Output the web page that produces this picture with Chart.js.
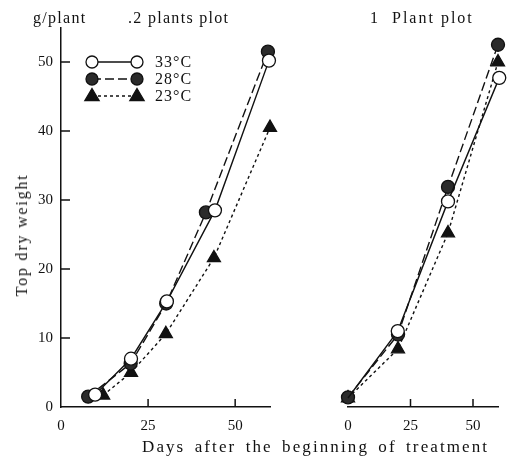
<!DOCTYPE html>
<html>
<head>
<meta charset="utf-8">
<script src="https://cdn.jsdelivr.net/npm/chart.js@4/dist/chart.umd.min.js"></script>
<style>
  body { margin: 0; background: #fff; }
  #wrap { position: relative; width: 507px; height: 457px; overflow: hidden; font-family: "Liberation Serif", serif; color: #111; }
  canvas { position: absolute; top: 0; }
  .lbl { position: absolute; font-size: 16px; line-height: 20px; white-space: pre; letter-spacing: 1.3px; }
</style>
</head>
<body>
<div id="wrap">
  <canvas id="left" width="290" height="457" style="left:0"></canvas>
  <canvas id="right" width="257" height="457" style="left:250px"></canvas>
  <div class="lbl" style="left:33px;top:8px">g/plant</div>
  <div class="lbl" style="left:128px;top:8px">.2 plants plot</div>
  <div class="lbl" style="left:370px;top:8px;letter-spacing:2px">1  Plant plot</div>
  <div class="lbl" style="left:142px;top:437px;font-size:17px;letter-spacing:2.1px;word-spacing:3px">Days after the beginning of treatment</div>
  <div class="lbl" style="left:22px;top:235px;letter-spacing:1.8px;transform:translate(-50%,-50%) rotate(-90deg)">Top dry weight</div>
</div>
<script>
// ====== Data (days, top dry weight g/plant)
const seriesNames = ["33°C", "28°C", "23°C"];

// 2 plants plot
const leftDays33 = [9.8, 20.1, 30.4, 44.2, 59.7];
const left33 = [1.8, 7.0, 15.3, 28.5, 50.2];
const leftDays28 = [7.8, 20.0, 30.2, 41.6, 59.4];
const left28 = [1.5, 6.3, 15.0, 28.2, 51.5];
const leftDays23 = [12.1, 20.1, 30.1, 43.9, 60.0];
const left23 = [1.7, 5.0, 10.6, 21.6, 40.5];

// 1 plant plot
const rightDays33 = [0, 19.9, 40, 60.5];
const right33 = [1.3, 11.0, 29.8, 47.7];
const rightDays28 = [0, 20, 40, 60];
const right28 = [1.4, 10.5, 31.9, 52.5];
const rightDays23 = [0, 20, 40, 60];
const right23 = [1.3, 8.4, 25.2, 50.0];

const xTicks = [0, 25, 50];
const yTicks = [0, 10, 20, 30, 40, 50];

const INK = "#111";
const FONT = "Liberation Serif";

const zip = (xs, ys) => xs.map((x, i) => ({ x, y: ys[i] }));

const styles = [
  { pointStyle: "circle", pointRadius: 6.5, pointBackgroundColor: "#fff", borderDash: [] },
  { pointStyle: "circle", pointRadius: 6.5, pointBackgroundColor: "#2b2b2b", borderDash: [9, 4] },
  { pointStyle: "triangle", pointRadius: 7.5, pointBackgroundColor: "#111", borderDash: [3, 3] },
];

const makeDatasets = (sets) => sets.map(([xs, ys], i) => ({
  label: seriesNames[i],
  data: zip(xs, ys),
  borderColor: INK,
  borderWidth: 1.4,
  pointBorderColor: INK,
  pointBorderWidth: 1.3,
  clip: false,
  ...styles[i],
}));

// ====== inward tick marks
const innerTicks = {
  id: "innerTicks",
  beforeDatasetsDraw(chart) {
    const { ctx, chartArea, scales } = chart;
    ctx.save();
    ctx.strokeStyle = INK;
    ctx.lineWidth = 1.5;
    ctx.beginPath();
    scales.x.ticks.forEach(t => {
      if (t.value === 0) return;
      const x = scales.x.getPixelForValue(t.value);
      ctx.moveTo(x, chartArea.bottom);
      ctx.lineTo(x, chartArea.bottom - 8);
    });
    if (scales.y.options.display) {
      scales.y.ticks.forEach(t => {
        if (t.value === 0) return;
        const y = scales.y.getPixelForValue(t.value);
        ctx.moveTo(chartArea.left, y);
        ctx.lineTo(chartArea.left + 9, y);
      });
    }
    ctx.stroke();
    ctx.restore();
  },
};

// ====== legend drawn inside the left plot
const lineLegend = {
  id: "lineLegend",
  afterDraw(chart) {
    const { ctx } = chart;
    const rows = [62, 79, 96];
    ctx.save();
    chart.data.datasets.forEach((ds, i) => {
      const y = rows[i];
      ctx.strokeStyle = INK;
      ctx.lineWidth = 1.3;
      ctx.setLineDash(ds.borderDash);
      ctx.beginPath();
      ctx.moveTo(92, y);
      ctx.lineTo(137, y);
      ctx.stroke();
      ctx.setLineDash([]);
      [92, 137].forEach(x => {
        ctx.fillStyle = ds.pointBackgroundColor;
        ctx.beginPath();
        if (ds.pointStyle === "triangle") {
          const r = ds.pointRadius;
          ctx.moveTo(x, y - r);
          ctx.lineTo(x + r * 0.95, y + r * 0.6);
          ctx.lineTo(x - r * 0.95, y + r * 0.6);
          ctx.closePath();
        } else {
          ctx.arc(x, y, 6, 0, Math.PI * 2);
        }
        ctx.fill();
        ctx.stroke();
      });
      ctx.fillStyle = INK;
      ctx.font = `16px "${FONT}"`;
      ctx.letterSpacing = "1px";
      ctx.textBaseline = "middle";
      ctx.fillText(ds.label, 155, y + 1);
    });
    ctx.restore();
  },
};

const keepTicks = (list) => (scale) => {
  scale.ticks = list.map(v => ({ value: v }));
};

const makeOptions = (showY, padLeft, padRight) => ({
  responsive: false,
  animation: false,
  layout: { padding: { top: 27.5, bottom: 0, left: padLeft, right: padRight } },
  plugins: { legend: { display: false }, tooltip: { enabled: false } },
  scales: {
    x: {
      type: "linear",
      min: 0,
      max: 60,
      afterBuildTicks: keepTicks(xTicks),
      afterFit: (s) => { s.height = 50; },
      grid: { display: false, drawTicks: false },
      border: { display: true, color: INK, width: 1.5 },
      ticks: { padding: 10, color: INK, font: { family: FONT, size: 15 } },
    },
    y: {
      display: showY,
      min: 0,
      max: 55,
      afterBuildTicks: keepTicks(yTicks),
      afterFit: (s) => { s.width = 61; },
      grid: { display: false, drawTicks: false },
      border: { display: true, color: INK, width: 1.5 },
      ticks: { padding: 8, color: INK, font: { family: FONT, size: 15 } },
    },
  },
});

new Chart(document.getElementById("left"), {
  type: "line",
  data: {
    datasets: makeDatasets([[leftDays33, left33], [leftDays28, left28], [leftDays23, left23]]),
  },
  options: makeOptions(true, 0, 20),
  plugins: [innerTicks, lineLegend],
});

const rightSets = makeDatasets([[rightDays33, right33], [rightDays28, right28], [rightDays23, right23]]);
// at day 0 the open circle sits hidden under the filled one
rightSets[0].pointRadius = (c) => (c.dataIndex === 0 ? 0 : 6.5);

new Chart(document.getElementById("right"), {
  type: "line",
  data: { datasets: rightSets },
  options: makeOptions(false, 37, 9),
  plugins: [innerTicks],
});
</script>
</body>
</html>
